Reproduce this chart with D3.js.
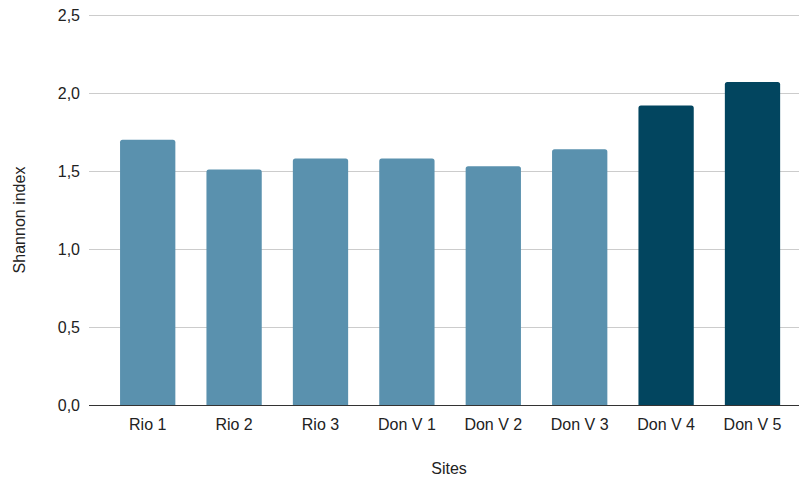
<!DOCTYPE html>
<html>
<head>
<meta charset="utf-8">
<script src="https://cdn.jsdelivr.net/npm/d3@7"></script>
<style>
  html, body { margin: 0; padding: 0; background: #fff; }
  svg { display: block; font-family: "Liberation Sans", Arial, sans-serif; }
</style>
</head>
<body>
<svg id="chart" width="799" height="479"></svg>
<script>
// Shannon diversity index per sampling site
const sites = ["Rio 1", "Rio 2", "Rio 3", "Don V 1", "Don V 2", "Don V 3", "Don V 4", "Don V 5"];
const shannon = [1.70, 1.51, 1.58, 1.58, 1.53, 1.64, 1.92, 2.07];
const highlighted = [false, false, false, false, false, false, true, true];
const yTicks = [0, 0.5, 1.0, 1.5, 2.0, 2.5];

const svg = d3.select("#chart");
const plot = { left: 89, right: 799, top: 15, bottom: 405 };

const x = d3.scaleBand()
  .domain(sites)
  .range([104.5, 795.7])
  .paddingInner(0.36)
  .paddingOuter(0.18);

const y = d3.scaleLinear().domain([0, 2.5]).range([plot.bottom, plot.top]);

const fmt = v => d3.format(".1f")(v).replace(".", ",");

// horizontal gridlines
svg.append("g")
  .selectAll("line")
  .data(yTicks.filter(t => t > 0))
  .join("line")
  .attr("x1", plot.left).attr("x2", plot.right)
  .attr("y1", d => Math.round(y(d)) + 0.5).attr("y2", d => Math.round(y(d)) + 0.5)
  .attr("stroke", "#cccccc").attr("stroke-width", 1);

// y tick labels
svg.append("g")
  .selectAll("text")
  .data(yTicks)
  .join("text")
  .attr("x", 80)
  .attr("y", d => y(d))
  .attr("dy", "0.35em")
  .attr("text-anchor", "end")
  .attr("font-size", 16)
  .attr("fill", "#222")
  .text(fmt);

// bars with slightly rounded top corners
const r = 2.5;
function barPath(d, i) {
  const x0 = x(sites[i]), w = x.bandwidth();
  const yt = y(d), yb = y(0);
  return `M${x0},${yb}V${yt + r}Q${x0},${yt} ${x0 + r},${yt}H${x0 + w - r}Q${x0 + w},${yt} ${x0 + w},${yt + r}V${yb}Z`;
}
svg.append("g")
  .selectAll("path")
  .data(shannon)
  .join("path")
  .attr("d", barPath)
  .attr("fill", (d, i) => highlighted[i] ? "#02455f" : "#5a91ae");

// baseline
svg.append("line")
  .attr("x1", plot.left).attr("x2", plot.right)
  .attr("y1", y(0) + 0.5).attr("y2", y(0) + 0.5)
  .attr("stroke", "#333").attr("stroke-width", 1);

// x category labels
svg.append("g")
  .selectAll("text")
  .data(sites)
  .join("text")
  .attr("x", d => x(d) + x.bandwidth() / 2)
  .attr("y", 430)
  .attr("text-anchor", "middle")
  .attr("font-size", 16)
  .attr("fill", "#222")
  .text(d => d);

// axis titles
svg.append("text")
  .attr("x", 449).attr("y", 474)
  .attr("text-anchor", "middle")
  .attr("font-size", 16)
  .attr("fill", "#222")
  .text("Sites");

svg.append("text")
  .attr("transform", "translate(25,220) rotate(-90)")
  .attr("text-anchor", "middle")
  .attr("font-size", 16)
  .attr("fill", "#222")
  .text("Shannon index");
</script>
</body>
</html>
